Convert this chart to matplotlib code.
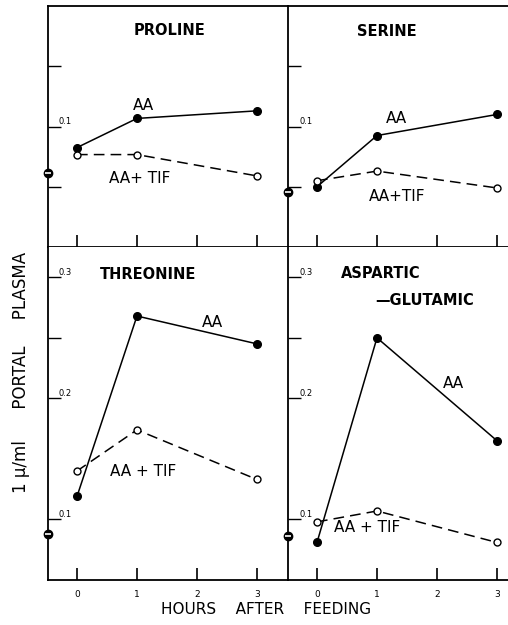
import matplotlib.pyplot as plt
from matplotlib.transforms import blended_transform_factory

hours = [0, 1, 3]

proline_aa = [0.0825, 0.1067, 0.113]
proline_tif = [0.0767, 0.0767, 0.059]
proline_base = 0.061

serine_aa = [0.050, 0.0925, 0.110]
serine_tif = [0.055, 0.063, 0.049]
serine_base = 0.046

threonine_aa = [0.119, 0.268, 0.245]
threonine_tif = [0.140, 0.174, 0.133]
threonine_base = 0.088

aspglu_aa = [0.081, 0.250, 0.165]
aspglu_tif = [0.098, 0.107, 0.081]
aspglu_base = 0.086

x_ticks = [0, 1, 2, 3]
x_ticklabels = ['0', '1', '2', '3']
top_yticks = [0.05, 0.1, 0.15]
top_ylabels = {0.1: '0.1'}
bot_yticks = [0.1, 0.2, 0.25, 0.3]
bot_ylabels = {0.1: '0.1', 0.2: '0.2', 0.3: '0.3'}

W, H = 508, 625
fig = plt.figure(figsize=(W / 100, H / 100), dpi=100)


def px_box(x0, y0, x1, y1):
    return [x0 / W, 1 - y1 / H, (x1 - x0) / W, (y1 - y0) / H]


ax_pro = fig.add_axes(px_box(48, 6, 288, 247))
ax_ser = fig.add_axes(px_box(288, 6, 508, 247))
ax_thr = fig.add_axes(px_box(48, 247, 288, 580))
ax_asp = fig.add_axes(px_box(288, 247, 508, 580))


def style(ax, ylim, yticks, ylabels, xright, top, bottom_labels):
    ax.set_xlim(-0.483, xright)
    ax.set_ylim(*ylim)
    ax.spines['right'].set_visible(False)
    ax.spines['top'].set_visible(top)
    for s in ax.spines.values():
        s.set_linewidth(1.3)
    ax.set_xticks(x_ticks)
    if bottom_labels:
        ax.set_xticklabels(x_ticklabels, fontsize=6.5)
    else:
        ax.set_xticklabels([])
    ax.set_yticks(yticks)
    ax.set_yticklabels([])
    ax.tick_params(axis='x', direction='in', length=9, width=1.2, pad=7)
    ax.tick_params(axis='y', direction='in', length=9, width=1.0)
    tr = blended_transform_factory(ax.transAxes, ax.transData)
    for v, lab in ylabels.items():
        ax.text(0.045 if xright > 3.4 else 0.05, v, lab, transform=tr,
                fontsize=6, ha='left', va='bottom')


def draw(ax, aa, tif, base):
    ax.plot(hours, aa, '-', color='black', lw=1.1, marker='o', ms=5.5,
            mfc='black', mec='black', zorder=3)
    ax.plot(hours, tif, color='black', lw=1.1, dashes=(7, 4), marker='o',
            ms=5, mfc='white', mec='black', zorder=3)
    ax.plot([-0.483], [base], 'o', color='black', ms=6, clip_on=False, zorder=4)
    ax.plot([-0.483], [base], '_', color='white', ms=4, mew=1.2,
            clip_on=False, zorder=5)


style(ax_pro, (0.0, 0.2), top_yticks, top_ylabels, 3.517, True, False)
style(ax_ser, (0.0, 0.2), top_yticks, top_ylabels, 3.183, True, False)
style(ax_thr, (0.05, 0.325), bot_yticks, bot_ylabels, 3.517, False, True)
style(ax_asp, (0.05, 0.325), bot_yticks, bot_ylabels, 3.183, False, True)

draw(ax_pro, proline_aa, proline_tif, proline_base)
draw(ax_ser, serine_aa, serine_tif, serine_base)
draw(ax_thr, threonine_aa, threonine_tif, threonine_base)
draw(ax_asp, aspglu_aa, aspglu_tif, aspglu_base)

title_kw = dict(fontsize=10.5, fontweight='bold', ha='center', va='center')
lab_kw = dict(fontsize=11, ha='center', va='center')

ax_pro.text(1.55, 0.18, 'PROLINE', **title_kw)
ax_pro.text(1.1, 0.1175, 'AA', **lab_kw)
ax_pro.text(1.05, 0.0567, 'AA+ TIF', **lab_kw)

ax_ser.text(1.17, 0.179, 'SERINE', **title_kw)
ax_ser.text(1.32, 0.1067, 'AA', **lab_kw)
ax_ser.text(1.33, 0.0417, 'AA+TIF', **lab_kw)

ax_thr.text(1.18, 0.3025, 'THREONINE', **title_kw)
ax_thr.text(2.25, 0.263, 'AA', **lab_kw)
ax_thr.text(1.1, 0.14, 'AA + TIF', **lab_kw)

ax_asp.text(1.07, 0.303, 'ASPARTIC', **title_kw)
ax_asp.text(1.8, 0.281, '\u2014GLUTAMIC', **title_kw)
ax_asp.text(2.27, 0.212, 'AA', **lab_kw)
ax_asp.text(0.84, 0.093, 'AA + TIF', **lab_kw)

fig.text(266 / W, 1 - 610 / H, 'HOURS    AFTER    FEEDING', fontsize=11,
         ha='center', va='center')
fig.text(21 / W, 1 - 372 / H, '1 \u03bc/ml      PORTAL     PLASMA',
         fontsize=12, rotation=90, ha='center', va='center')

fig.savefig('out.png', dpi=100)
